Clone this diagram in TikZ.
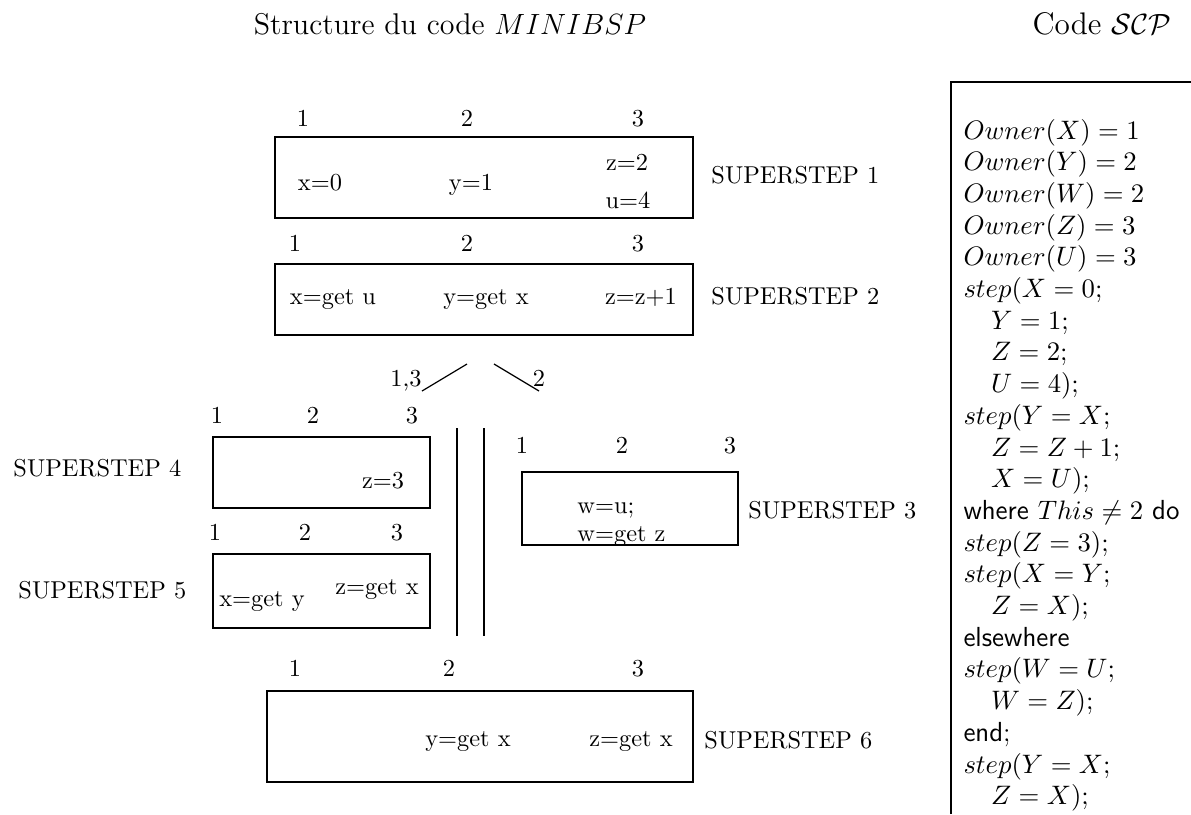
\documentclass[tikz,border=0pt]{standalone}
\usetikzlibrary{fit}
\begin{document}
\begin{tikzpicture}[x=0.41pt,y=-0.41pt,
  box/.style={draw,line width=0.5pt,inner sep=0pt},
  lbl/.style={anchor=base,inner sep=0pt},
  lblw/.style={anchor=base west,inner sep=0pt},
  code/.style={anchor=base west,inner sep=0pt,font=\fontsize{11.3}{13}\selectfont},
  sep/.style={line width=0.5pt}]
\useasboundingbox (0,0) rectangle (1191,814);

% headings
\node[lbl,font=\fontsize{12.3}{14}\selectfont] (title) at (450,34) {Structure du code $MINIBSP$};
\node[lbl,font=\fontsize{12.8}{14}\selectfont] (codetitle) at (1102,34) {Code $\mathcal{SCP}$};

% superstep 1
\node[lbl] (p11) at (303,126) {1};
\node[lbl] (p12) at (467,126) {2};
\node[lbl] (p13) at (638,126) {3};
\node[box,fit={(275,137) (693,218)}] (s1) {};
\node[lbl] (s1a) at (320,190) {x=0};
\node[lbl] (s1b) at (471,190) {y=1};
\node[lbl] (s1c) at (627,170) {z=2};
\node[lbl] (s1d) at (628,208) {u=4};
\node[lblw] (n1) at (711,183) {SUPERSTEP 1};

% superstep 2
\node[lbl] (p21) at (295,251) {1};
\node[lbl] (p22) at (467,251) {2};
\node[lbl] (p23) at (638,251) {3};
\node[box,fit={(275,264) (693,335)}] (s2) {};
\node[lbl] (s2a) at (333,304) {x=get u};
\node[lbl] (s2b) at (486,304) {y=get x};
\node[lbl] (s2c) at (641,304) {z=z+1};
\node[lblw] (n2) at (711,304) {SUPERSTEP 2};

% branch into the two processor groups
\coordinate (bl1) at (422,391); \coordinate (bl2) at (467,364);
\coordinate (br1) at (494,364); \coordinate (br2) at (539,391);
\draw[sep] (bl1) -- (bl2);
\draw[sep] (br1) -- (br2);
\node[lbl] (g13) at (406,386) {1,3};
\node[lbl] (g2) at (539,386) {2};

% parallel separator
\coordinate (v1t) at (457,428); \coordinate (v1b) at (457,636);
\coordinate (v2t) at (484,428); \coordinate (v2b) at (484,636);
\draw[sep] (v1t) -- (v1b);
\draw[sep] (v2t) -- (v2b);

% superstep 4
\node[lbl] (p41) at (217,423) {1};
\node[lbl] (p42) at (313,423) {2};
\node[lbl] (p43) at (412,423) {3};
\node[box,fit={(213,437) (430,508)}] (s4) {};
\node[lbl] (s4a) at (383,488) {z=3};
\node[lblw] (n4) at (13,476) {SUPERSTEP 4};

% superstep 5
\node[lbl] (p51) at (215,540) {1};
\node[lbl] (p52) at (305,540) {2};
\node[lbl] (p53) at (397,540) {3};
\node[box,fit={(213,554) (430,628)}] (s5) {};
\node[lbl] (s5a) at (262,606) {x=get y};
\node[lbl] (s5b) at (377,594) {z=get x};
\node[lblw] (n5) at (18,598) {SUPERSTEP 5};

% superstep 3
\node[lbl] (p31) at (522,453) {1};
\node[lbl] (p32) at (622,453) {2};
\node[lbl] (p33) at (730,453) {3};
\node[box,fit={(522,472) (738,545)}] (s3) {};
\node[lblw] (s3a) at (577,513) {w=u;};
\node[lblw] (s3b) at (577,541) {w=get z};
\node[lblw] (n3) at (748,518) {SUPERSTEP 3};

% superstep 6
\node[lbl] (p61) at (295,676) {1};
\node[lbl] (p62) at (449,676) {2};
\node[lbl] (p63) at (638,676) {3};
\node[box,fit={(267,691) (693,782)}] (s6) {};
\node[lbl] (s6a) at (468,746) {y=get x};
\node[lbl] (s6b) at (631,746) {z=get x};
\node[lblw] (n6) at (704,748) {SUPERSTEP 6};

% SCP listing panel
\coordinate (pb) at (951,814); \coordinate (pc) at (951,82); \coordinate (pr) at (1191,82);
\draw[line width=1pt] (pb) -- (pc) -- (pr);
\foreach \t [count=\i] in {
  {$Owner(X) = 1$},
  {$Owner(Y) = 2$},
  {$Owner(W) = 2$},
  {$Owner(Z) = 3$},
  {$Owner(U) = 3$},
  {$step(X = 0;$},
  {\quad$Y = 1;$},
  {\quad$Z = 2;$},
  {\quad$U = 4);$},
  {$step(Y = X;$},
  {\quad$Z = Z + 1;$},
  {\quad$X = U);$},
  {\textsf{where} $This \neq 2$ \textsf{do}},
  {$step(Z = 3);$},
  {$step(X = Y;$},
  {\quad$Z = X);$},
  {\textsf{elsewhere}},
  {$step(W = U;$},
  {\quad$W = Z);$},
  {\textsf{end};},
  {$step(Y = X;$},
  {\quad$Z = X);$}}
  \node[code] (L\i) at (963,{139+31.7*(\i-1)}) {\t};
\end{tikzpicture}
\end{document}
